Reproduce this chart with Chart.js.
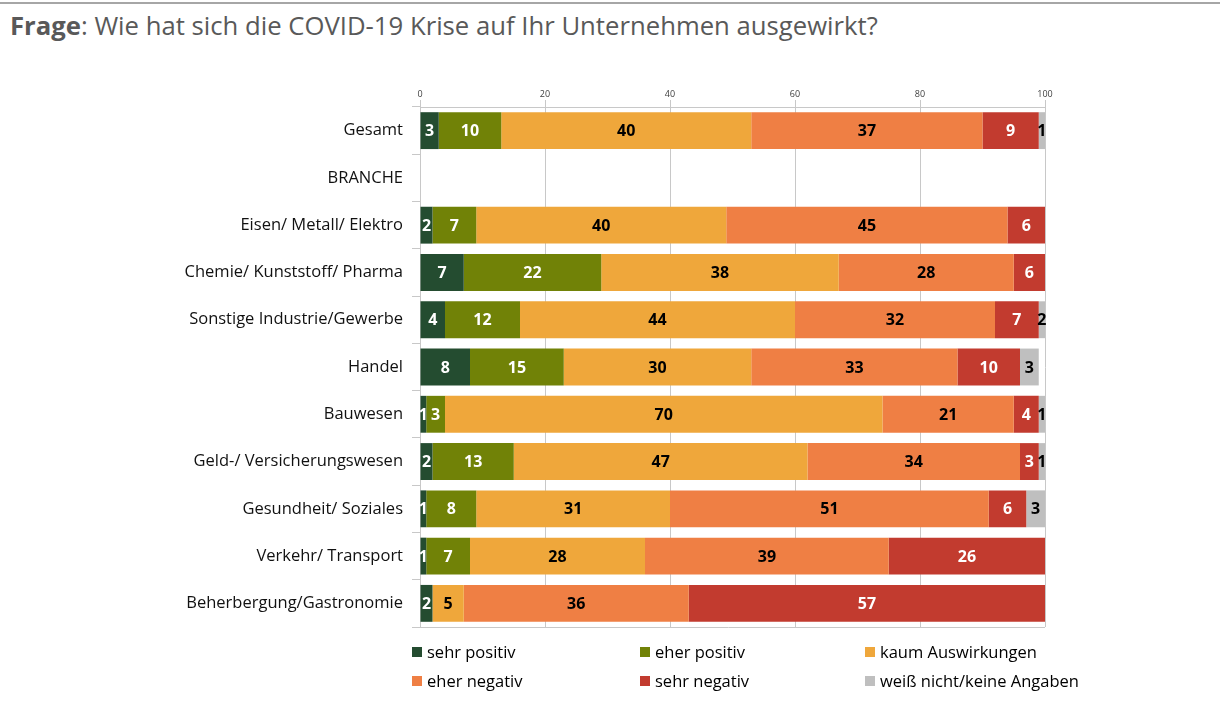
<!DOCTYPE html>
<html>
<head>
<meta charset="utf-8">
<script src="https://cdn.jsdelivr.net/npm/chart.js@4.4.1/dist/chart.umd.min.js"></script>
<style>
  body { margin: 0; background: #fff; font-family: "Open Sans", sans-serif; }
  #wrap { position: relative; width: 1220px; height: 722px; overflow: hidden; }
  #topline { position: absolute; left: 0; top: 2px; width: 1220px; height: 2px; background: #a6a6a6; }
  #title { position: absolute; left: 10px; top: 8px; font-size: 25.7px; color: #595959; white-space: nowrap; }
  #chart { position: absolute; left: 0; top: 0; }
  #legend { position: absolute; left: 412px; top: 640px; display: grid;
            grid-template-columns: 228px 225px 240px; row-gap: 6px; font-size: 16.5px; color: #000; }
  .item { display: flex; align-items: center; height: 23px; }
  .sw { width: 10px; height: 10px; margin-right: 5px; }
</style>
</head>
<body>
<div id="wrap">
  <div id="topline"></div>
  <div id="title"><b>Frage</b>: Wie hat sich die COVID-19 Krise auf Ihr Unternehmen ausgewirkt?</div>
  <canvas id="chart" width="1220" height="722"></canvas>
  <div id="legend"></div>
</div>
<script>
const categories = [
  "Gesamt", "BRANCHE", "Eisen/ Metall/ Elektro", "Chemie/ Kunststoff/ Pharma",
  "Sonstige Industrie/Gewerbe", "Handel", "Bauwesen", "Geld-/ Versicherungswesen",
  "Gesundheit/ Soziales", "Verkehr/ Transport", "Beherbergung/Gastronomie"
]
const xTicks = [0, 20, 40, 60, 80, 100]

const sehrPositiv   = [3, null, 2, 7, 4, 8, 1, 2, 1, 1, 2]
const eherPositiv   = [10, null, 7, 22, 12, 15, 3, 13, 8, 7, 0]
const kaum          = [40, null, 40, 38, 44, 30, 70, 47, 31, 28, 5]
const eherNegativ   = [37, null, 45, 28, 32, 33, 21, 34, 51, 39, 36]
const sehrNegativ   = [9, null, 6, 6, 7, 10, 4, 3, 6, 26, 57]
const weissNicht    = [1, null, 0, 0, 2, 3, 1, 1, 3, 0, 0]

const seriesNames = ["sehr positiv", "eher positiv", "kaum Auswirkungen",
                     "eher negativ", "sehr negativ", "weiß nicht/keine Angaben"]
const seriesColors = ["#244c30", "#718207", "#efa73b", "#ef7f44", "#c23b2f", "#bfbfbf"]
const labelColors = ["#fff", "#fff", "#000", "#000", "#fff", "#000"]
const seriesData = [sehrPositiv, eherPositiv, kaum, eherNegativ, sehrNegativ, weissNicht]

Chart.defaults.font.family = "'Open Sans', sans-serif"

const datasets = seriesNames.map((name, i) => ({
  label: name,
  data: seriesData[i],
  backgroundColor: seriesColors[i],
  borderWidth: 0,
  barPercentage: 0.78,
  categoryPercentage: 1
}))

const valueLabels = {
  id: "valueLabels",
  afterDatasetsDraw(chart) {
    const ctx = chart.ctx
    ctx.save()
    ctx.font = "bold 16px 'Open Sans', sans-serif"
    ctx.textAlign = "center"
    ctx.textBaseline = "middle"
    chart.data.datasets.forEach((ds, i) => {
      const meta = chart.getDatasetMeta(i)
      meta.data.forEach((bar, j) => {
        const v = ds.data[j]
        if (!v) return
        const right = Math.min(bar.x, chart.chartArea.right)
        const cx = (right + bar.base) / 2
        ctx.fillStyle = labelColors[i]
        ctx.fillText(String(v), cx, bar.y + 1)
      })
    })
    ctx.restore()
  }
}

const frameLines = {
  id: "frameLines",
  afterDraw(chart) {
    const { ctx, chartArea } = chart
    ctx.save()
    ctx.strokeStyle = "#c8c8c8"
    ctx.lineWidth = 1
    ctx.beginPath()
    ctx.moveTo(chartArea.left - 8, chartArea.bottom + 0.5)
    ctx.lineTo(chartArea.right, chartArea.bottom + 0.5)
    ctx.stroke()
    ctx.restore()
  }
}

new Chart(document.getElementById("chart"), {
  type: "bar",
  data: { labels: categories, datasets },
  options: {
    indexAxis: "y",
    responsive: false,
    animation: false,
    layout: { padding: { top: 60, right: 175, bottom: 95, left: 0 } },
    plugins: { legend: { display: false }, tooltip: { enabled: false } },
    scales: {
      x: {
        position: "top",
        stacked: true,
        min: 0,
        max: 100,
        afterBuildTicks: s => { s.ticks = xTicks.map(v => ({ value: v })) },
        afterFit: s => { s.height = 47 },
        ticks: { font: { size: 9 }, color: "#404040", padding: 0, maxRotation: 0 },
        grid: { color: "#c8c8c8", tickLength: 7 },
        border: { color: "#c8c8c8" }
      },
      y: {
        stacked: true,
        afterFit: s => { s.width = 420 },
        ticks: { font: { size: 16.5 }, color: "#111", padding: 9 },
        grid: { drawOnChartArea: false, color: "#c8c8c8", tickLength: 8 },
        border: { color: "#c8c8c8" }
      }
    }
  },
  plugins: [valueLabels, frameLines]
})

const legend = document.getElementById("legend")
seriesNames.forEach((name, i) => {
  const item = document.createElement("div")
  item.className = "item"
  item.innerHTML = '<span class="sw" style="background:' + seriesColors[i] + '"></span>' + name
  legend.appendChild(item)
})
</script>
</body>
</html>
